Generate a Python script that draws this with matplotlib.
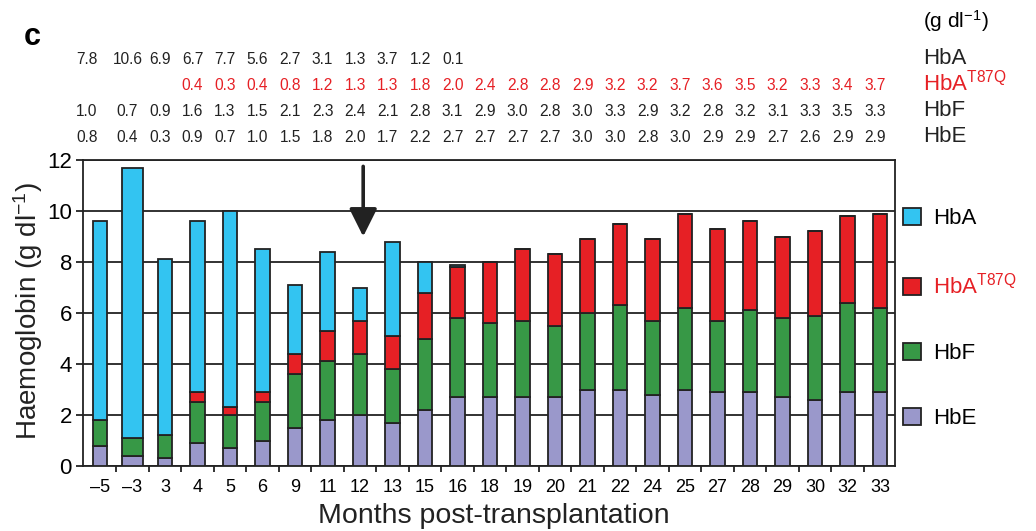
import matplotlib
matplotlib.use("Agg")
import matplotlib.pyplot as plt
from matplotlib.patches import Patch
import numpy as np

plt.rcParams['font.family'] = ['Liberation Sans', 'DejaVu Sans']
plt.rcParams['mathtext.default'] = 'regular'

# months post-transplantation (categories)
months = ['\u20135', '\u20133', '3', '4', '5', '6', '9', '11', '12', '13', '15', '16', '18',
          '19', '20', '21', '22', '24', '25', '27', '28', '29', '30', '32', '33']

# haemoglobin fractions (g/dl), None = not detected
hba = [7.8, 10.6, 6.9, 6.7, 7.7, 5.6, 2.7, 3.1, 1.3, 3.7, 1.2, 0.1,
       None, None, None, None, None, None, None, None, None, None, None, None, None]
hba_t87q = [None, None, None, 0.4, 0.3, 0.4, 0.8, 1.2, 1.3, 1.3, 1.8, 2.0, 2.4,
            2.8, 2.8, 2.9, 3.2, 3.2, 3.7, 3.6, 3.5, 3.2, 3.3, 3.4, 3.7]
hbf = [1.0, 0.7, 0.9, 1.6, 1.3, 1.5, 2.1, 2.3, 2.4, 2.1, 2.8, 3.1, 2.9,
       3.0, 2.8, 3.0, 3.3, 2.9, 3.2, 2.8, 3.2, 3.1, 3.3, 3.5, 3.3]
hbe = [0.8, 0.4, 0.3, 0.9, 0.7, 1.0, 1.5, 1.8, 2.0, 1.7, 2.2, 2.7, 2.7,
       2.7, 2.7, 3.0, 3.0, 2.8, 3.0, 2.9, 2.9, 2.7, 2.6, 2.9, 2.9]

c_hba = '#33C4F1'
c_t87q = '#E62025'
c_hbf = '#379846'
c_hbe = '#9A98CB'
edge = '#222222'

fig = plt.figure(figsize=(10.36, 5.31), dpi=100)
ax = fig.add_axes([83/1036, 1-466/531, (895-83)/1036, (466-160)/531])

x = np.arange(len(months))
widths = np.full(len(months), 0.44)
widths[1] = 0.66  # the -3 month bar is drawn wider in the original

def vals(a):
    return np.array([0 if v is None else v for v in a], dtype=float)

bottom = np.zeros(len(months))
for series, col in [(hbe, c_hbe), (hbf, c_hbf), (hba_t87q, c_t87q), (hba, c_hba)]:
    v = vals(series)
    ax.bar(x, v, width=widths, bottom=bottom, color=col, edgecolor=edge,
           linewidth=1.3, zorder=3)
    bottom = bottom + v

# axes setup
ax.set_xlim(-0.52, 24.46)
ax.set_ylim(0, 12)
ax.set_yticks(range(0, 13, 2))
ax.yaxis.grid(True, color=edge, linewidth=1.3)
ax.set_axisbelow(True)
for s in ax.spines.values():
    s.set_color(edge)
    s.set_linewidth(1.3)
ax.set_xticks(x)
ax.set_xticklabels(months, fontsize=13)
ax.set_xticks(x[:-1] + 0.5, minor=True)
ax.tick_params(axis='x', which='major', length=0, pad=9)
ax.tick_params(axis='x', which='minor', length=4, width=1.3, color=edge)
ax.tick_params(axis='y', length=5, width=1.3, color=edge, labelsize=16, pad=3)

# arrow at month 12
ax.annotate('', xy=(8.1, 9.0), xytext=(8.1, 11.75),
            arrowprops=dict(arrowstyle='-|>,head_length=1.7,head_width=0.85',
                            lw=2.6, color=edge, shrinkA=0, shrinkB=0))

# value table above the plot
rows = [(hba, 1-64/531, edge), (hba_t87q, 1-90/531, c_t87q),
        (hbf, 1-116/531, edge), (hbe, 1-142/531, edge)]
for series, yy, col in rows:
    for i, v in enumerate(series):
        if v is None:
            continue
        off = -0.4 if i == 0 else -0.15
        xd = ax.transData.transform((i + off, 0))[0]
        xf = fig.transFigure.inverted().transform((xd, 0))[0]
        fig.text(xf, yy, '%.1f' % v, ha='center', va='baseline', fontsize=11.2, color=col)

lx = 923/1036
fig.text(lx, 1-28/531, '(g dl$^{-1}$)', fontsize=15, va='baseline')
fig.text(lx, 1-64/531, 'HbA', fontsize=16, va='baseline', color=edge)
fig.text(lx, 1-90/531, 'HbA$^{T87Q}$', fontsize=16, va='baseline', color=c_t87q)
fig.text(lx, 1-116/531, 'HbF', fontsize=16, va='baseline', color=edge)
fig.text(lx, 1-142/531, 'HbE', fontsize=16, va='baseline', color=edge)

fig.text(24/1036, 1-45/531, 'c', fontsize=22, fontweight='bold', va='baseline')

fig.text(28/1036, 1-311/531, 'Haemoglobin (g dl$^{-1}$)', fontsize=20, rotation=90,
         ha='center', va='center', color='#222')
fig.text(494/1036, 1-523/531, 'Months post-transplantation', fontsize=20.5,
         ha='center', va='baseline', color='#222')

handles = [Patch(facecolor=c, edgecolor=edge, linewidth=1.3) for c in [c_hba, c_t87q, c_hbf, c_hbe]]
leg = ax.legend(handles, ['HbA', 'HbA$^{T87Q}$', 'HbF', 'HbE'], loc='upper left',
                bbox_to_anchor=(903/1036, 1-208/531), bbox_transform=fig.transFigure,
                frameon=False, fontsize=16, handlelength=0.8, handleheight=0.8,
                handletextpad=0.55, labelspacing=1.97, borderpad=0, borderaxespad=0)
leg.get_texts()[1].set_color(c_t87q)

fig.savefig('out.png', dpi=100)
